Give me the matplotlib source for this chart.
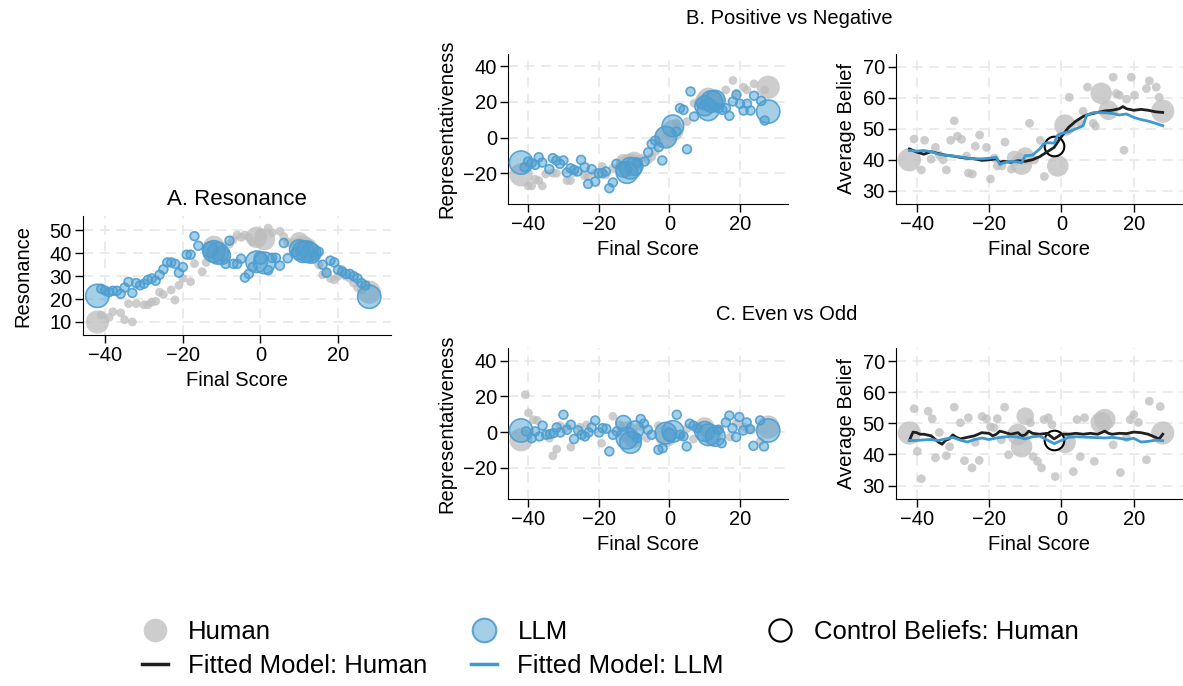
import matplotlib
matplotlib.use('Agg')
import matplotlib.pyplot as plt
from matplotlib.lines import Line2D

plt.rcParams['font.family'] = ['Liberation Sans', 'DejaVu Sans']

# games per final score -> marker area
score_n = {-42: 7, -13: 3, -12: 6, -11: 6, -10: 4, -1: 6, 0: 2, 1: 6,
           10: 5, 11: 6, 12: 6, 13: 5, 28: 7}

# ---- A. Resonance ----
res_h_x = [-42, -41, -39, -38, -36, -35, -34, -33, -32, -30, -29, -28, -27, -26, -25, -23, -22,
           -21, -20, -18, -17, -15, -14, -13, -12, -11, -10, -9, -8, -7, -6, -5, -4, -3, -2, -1,
           0, 1, 2, 3, 5, 6, 7, 8, 9, 10, 11, 12, 13, 14, 15, 16, 17, 18, 19, 20, 21, 22, 23,
           24, 25, 26, 27, 28]
res_h_y = [10, 13, 12, 14.5, 14, 11, 18, 10, 18, 17.5, 17.5, 18.7, 19, 23, 22, 24, 19.6,
           26, 29, 27.6, 35.5, 32, 36, 40, 43, 41, 40, 38, 44, 46, 48, 47, 48, 47, 45, 47,
           48, 46, 51, 49, 49.6, 47.3, 45, 44, 45, 45, 43, 42, 40, 37, 35, 30.6, 32, 29, 28.4, 30, 33, 30, 29,
           27, 25, 24, 26, 23]
res_l_x = [-42, -41, -40, -39, -38, -37, -36, -35, -34, -33, -32, -31, -30, -29, -28, -27, -26,
           -25, -24, -23, -22, -21, -20, -19, -18, -17, -16, -13, -12, -11, -10, -9, -8, -7, -6,
           -5, -4, -3, -2, -1, 0, 1, 2, 3, 4, 5, 6, 7, 9, 10, 11, 12, 13, 14, 15, 16, 17, 18,
           19, 20, 21, 22, 23, 24, 25, 26, 27, 28]
res_l_y = [21.4, 24.5, 23.7, 23, 23.6, 23.6, 22.3, 25, 27.5, 22.7, 27, 26, 26.7, 28.4, 29, 28, 30.6,
           33, 36, 36, 35.4, 31.5, 34, 39.4, 39.4, 47.5, 43.3, 41.6, 40.8, 40, 39, 35.4, 45.5, 35.4, 35.4,
           37.6, 29.4, 31, 34, 36.3, 38, 35.8, 32.6, 38, 38, 34.6, 44.5, 37.8, 40.5, 41.6, 40.7, 40.7, 40, 39, 40.7, 35, 31.5, 36.8,
           36, 32.8, 32, 31, 31, 30, 29, 27, 26, 21]

# ---- B. Positive vs Negative ----
pos_rep_h_x = [-42, -40, -39, -38, -37, -36, -35, -33, -32, -29, -28, -27, -24, -23, -21, -19, -18,
               -16, -14, -13, -12, -11, -10, -8, -6, -5, -4, -3, -1, 1, 2, 5, 7, 10, 11, 12, 13, 14,
               16, 18, 19, 21, 22, 24, 27, 28]
pos_rep_h_y = [-21, -27.2, -27.2, -23.5, -24.2, -27.2, -20.5, -20.1, -20.1, -24.2, -24.2, -19.7, -21.6, -22, -20.1, -16.3, -21,
               -17.3, -15.4, -13.5, -16, -15, -12.9, -11.6, -12.6, -11, -7.9, -3.2, 0.6, 4, 8.1, 9, 19.3, 20.3, 22.1, 21, 20, 20.3,
               26.8, 32.1, 25, 28.3, 26.8, 30.2, 26.8, 28.3]
pos_rep_l_x = [-42, -41, -40, -39, -38, -37, -36, -34, -33, -32, -31, -30, -29, -28, -27, -26, -25,
               -24, -23, -22, -21, -20, -19, -18, -17, -16, -15, -13, -12, -11, -10, -9, -7, -6, -5,
               -4, -3, -2, -1, 1, 2, 3, 4, 5, 6, 7, 9, 10, 11, 12, 13, 14, 15, 16, 17, 18, 19, 20,
               21, 22, 23, 24, 26, 27, 28]
pos_rep_l_y = [-14.1, -16.7, -13.5, -14.4, -15.4, -11.1, -14.1, -17.8, -11.6, -12.9, -14.8, -12.9, -19.7, -17.3, -18.2, -19.1, -12.6,
               -16.7, -26.1, -17.8, -24.8, -20.1, -20.1, -19.1, -28.5, -25.3, -14.8, -18, -19.7, -17.3, -16.3, -14.1, -13.5, -8.4, -3.6,
               -1.7, -5.4, -12.9, 0.2, 6.6, 3.4, 16.5, 15.6, -6.6, 25.9, 11.8, 19, 17.8, 15.6, 20.3, 21, 16.5, 15.6, 16.5, 12.2, 20.3, 24, 19,
               15.2, 19, 15.2, 23.5, 20.6, 9.6, 14.6]

pos_bel_h_x = [-42, -40.7, -38.7, -37.8, -36, -34.8, -33.7, -32.7, -31.8, -30.6, -29.6, -28.7, -27.6, -26.2,
               -25.7, -24.6, -23.8, -22.6, -20.7, -19.6, -18.5, -17.7, -16.4, -15.6, -13.8, -13, -11, -10,
               -8.8, -7.5, -5.8, -4.7, -1, 1, 2.2, 5.2, 6, 7.2, 8.8, 9.4, 11, 13, 14.3, 15.2, 16, 17.3, 18,
               19.3, 20.2, 23.5, 24.3, 26.2, 27, 28]
pos_bel_h_y = [40, 46.7, 36.7, 46.3, 40.2, 44, 41.5, 40, 36.7, 46.3, 52.6, 47.6, 46.6, 41.2,
               35.7, 35.4, 44.4, 48, 44, 33.8, 40.5, 38, 38, 45.7, 37, 40.5, 38.6, 41.2,
               51.8, 39.9, 46.3, 34.6, 38, 51.2, 60.2, 51.8, 55.7, 63.5, 51.8, 50.9, 61.5, 56, 66.7, 61.4, 60.9, 43.1, 59.6,
               66.7, 60.9, 63, 65.5, 63.5, 60.2, 55.7]
pos_fit_h_x = [-42, -40, -38, -36, -34, -32, -30, -28, -26, -24, -22, -20, -18, -17, -16, -14, -12, -10,
               -8, -6, -4, -2, 0, 1, 2, 4, 6, 8, 10, 12, 14, 16, 17, 18, 20, 22, 24, 26, 28]
pos_fit_h_y = [43.5, 42.5, 41.8, 42.6, 42, 41.5, 41.2, 40.8, 40.5, 40.3, 39.8, 40, 40.3, 39.2, 39.5, 39.2, 39.7, 39.5,
               40, 41, 42.5, 44, 47.5, 49, 50.5, 52.5, 54, 54.8, 55.3, 55.8, 56, 56.5, 57.2, 56.5, 56, 56.3, 56, 55.5, 55.3]
pos_fit_l_x = [-42, -40, -38, -36, -34, -32, -30, -28, -26, -24, -22, -20, -18, -17, -16, -14, -12, -11, -10,
               -8, -6, -5, -4, -2, -1, 0, 2, 4, 6, 7, 9, 12, 14, 16, 18, 20, 22, 24, 26, 28]
pos_fit_l_y = [43, 42.8, 43, 42.6, 41.8, 41.5, 41.2, 41, 40.5, 40.3, 40.3, 40.5, 40.8, 38.5, 39, 39.5, 39.3, 39, 41.3,
               41.5, 43.5, 45, 45.5, 45.4, 48, 48.5, 49, 50, 51, 54.5, 55.3, 55.2, 55, 54.5, 54.8, 53.7, 53, 52.5, 51.8, 51]
pos_ctrl = (-2, 44.4)

# ---- C. Even vs Odd ----
eo_rep_h_x = [-42, -40.8, -39.9, -38.5, -37.4, -34, -33, -31.9, -31, -29, -27.9, -25.3, -23.4, -19.2, -16, -14,
              -12, -10.2, -8.3, -6.4, -3.1, -1, 3.5, 5, 6.8, 8.7, 10, 12, 14.3, 17.2, 19, 21, 23.3, 25.7, 28]
eo_rep_h_y = [-4.3, 20.9, 10.7, 6.9, 6.5, -3.4, -13.3, -9.5, 3.6, 2.8, -8.4, 2.8, 4.1, -6.2, 8.8, 4,
              0, -4.3, 3.2, -3.4, 3.6, -2.4, -2.4, 2, -3.9, 2.8, 2.8, -1.5, 1.7, -2.8, 5, 3, 1.3, -5.2, 2.8]
eo_rep_l_x = [-42, -40.6, -39, -38, -36.8, -35.9, -34.9, -33.8, -32.8, -31.9, -30.9, -30, -29, -27.9, -27, -25.8,
              -24.8, -23.9, -22.9, -22, -21, -19.9, -18.9, -17.9, -17, -16, -14.9, -13, -12, -11, -9.7, -9.1,
              -8.1, -7.2, -6.1, -5, -3.1, -1.9, -1, 0, 1, 2.1, 3, 4, 4.9, 5.8, 6.8, 7.9, 10, 11, 13, 13.9,
              14.8, 16, 17, 17.9, 18.9, 19.8, 20.9, 21.9, 22.8, 23.8, 25.7, 26.8, 28]
eo_rep_l_y = [0.9, 0.4, -3.4, 0.4, -2.4, 3.6, -1.5, -1.1, -0.6, 2.6, -0.2, 9.7, 1.3, 4.1, -3.9, 0.9,
              -1.5, -2.4, -0.2, 2.6, 6.5, -0.2, 2.2, 1.9, -10.8, -1.5, 0.4, 5, -3.4, -5.8, 1.3, -3.4,
              7.3, 4.7, 1.3, -1.5, -9.9, -9, -0.6, -1.5, 0.4, 9.7, -1.5, -2.4, -8, 4.7, 3.6, 2.2, 0.4, -1.5, -2.4, 1.3,
              -6.2, 5.4, 9.2, 2.2, -2.8, 8.4, 0.9, 5.4, 1.7, -7.7, 6.5, -8, 0.9]

eo_bel_h_x = [-42, -40.7, -39.8, -38.7, -36.8, -35.7, -34.8, -33.7, -31.8, -30.9, -29.6, -27.9, -26.8, -25.7,
              -24.7, -23.8, -22.7, -21.9, -20.7, -19.6, -18.6, -17.7, -16.6, -15.7, -14.6, -12, -10, -11,
              -8.6, -7.8, -6.6, -5.5, -4.8, -3.6, -2.6, -1.7, 1, 3.3, 4.3, 5.2, 6.4, 9.1, 11, 12, 14.3,
              16.3, 18, 19, 20, 21.3, 23.5, 24.3, 27.3, 28]
eo_bel_h_y = [46.9, 54.7, 41, 32.2, 53.9, 51.5, 38.9, 47.1, 39.6, 42.5, 55.2, 50.2, 38, 51.8,
              35.7, 43.9, 38.1, 52.2, 51.5, 48.9, 48.6, 51.5, 44.7, 55.2, 39.9, 46.4, 52.3, 42.5,
              50.2, 39.3, 37.8, 35.7, 51.2, 51.8, 49.6, 32.9, 43.9, 34.5, 51.2, 39.3, 51.8, 37.8, 50.2, 51.2, 43.1,
              34.2, 45.4, 51.2, 52.8, 50.3, 38.3, 57.1, 55.4, 46.9]
eo_fit_h_x = [-42, -41, -40, -39, -38, -36, -35, -34, -33, -32, -31, -30, -29, -28, -26, -24, -22, -20, -19,
              -18, -17, -16, -14, -12, -11, -10, -9, -8, -6, -4, -2, 0, 2, 4, 6, 8, 10, 12, 13, 14, 16,
              18, 20, 22, 24, 26, 27, 28]
eo_fit_h_y = [44.5, 47.2, 47, 46.5, 46.5, 46, 45, 44, 43.3, 44.5, 45, 46.3, 45.5, 45, 45.5, 46, 47, 46.8, 46,
              46.5, 47.5, 47.2, 46.5, 47, 46, 46.3, 47.5, 46.8, 46.5, 46.8, 45, 46.5, 46.5, 46.8, 46.5, 46.8, 46.5, 47.5, 46.8, 46.5, 46.8,
              46.7, 47.2, 47, 46.5, 45.5, 45, 46.5]
eo_fit_l_x = [-42, -40, -38, -36, -34, -32, -30, -28, -26, -24, -22, -20, -18, -16, -14, -12, -10, -8, -6,
              -4, -2, 0, 2, 4, 6, 8, 10, 12, 14, 16, 18, 20, 22, 24, 26, 28]
eo_fit_l_y = [44.5, 44.5, 44.7, 44.8, 44.5, 45, 45.5, 44.6, 44, 44.8, 45.3, 44.8, 45.3, 45.6, 45.8, 45.6, 45, 45.7, 45.9,
              44.7, 43.5, 44.5, 45.5, 45.7, 45.6, 45.5, 45.4, 45.3, 45.5, 45.2, 44.8, 45.2, 44, 44.2, 44.6, 44.4]
eo_ctrl = (-2, 44.7)

GREY = '#bdbdbd'
BLUE_FILL = (0.30, 0.62, 0.82, 0.5)
BLUE_EDGE = (0.30, 0.62, 0.82, 0.9)
LINE_BLUE = '#3d99d1'
LINE_BLACK = '#1f1f1f'
FS = 14.5


def sizes(xs):
    return [40 * score_n.get(round(v), 1) for v in xs]


def style_axes(ax, yticks, ylim, ylabel, labelpad=5):
    ax.set_xlim(-45.7, 33.6)
    ax.set_ylim(*ylim)
    ax.set_xticks([-40, -20, 0, 20])
    ax.set_yticks(yticks)
    ax.grid(True, color='#e8e8e8', linestyle=(0, (6, 4)), linewidth=1.2)
    ax.set_axisbelow(True)
    ax.spines['top'].set_visible(False)
    ax.spines['right'].set_visible(False)
    ax.tick_params(labelsize=FS, length=6, width=1, pad=2)
    ax.set_xlabel('Final Score', fontsize=FS)
    ax.set_ylabel(ylabel, fontsize=FS, labelpad=labelpad)


def human_dots(ax, xs, ys):
    ax.scatter(xs, ys, s=sizes(xs), color=GREY, alpha=0.75, edgecolors='none', zorder=2)


def llm_dots(ax, xs, ys):
    ax.scatter(xs, ys, s=sizes(xs), facecolors=BLUE_FILL, edgecolors=BLUE_EDGE,
               linewidths=1.2, zorder=3)


def control(ax, pt):
    ax.scatter([pt[0]], [pt[1]], s=200, facecolors='white', edgecolors='black',
               linewidths=1.5, zorder=4)


def fits(ax, hx, hy, lx, ly):
    ax.plot(hx, hy, color=LINE_BLACK, lw=2.0, zorder=5)
    ax.plot(lx, ly, color=LINE_BLUE, lw=2.0, zorder=6)


fig = plt.figure(figsize=(11.83, 6.86), dpi=100)
W, H = 1183, 686

axA = fig.add_axes([83 / W, 1 - 335 / H, 308 / W, 119 / H])
axB1 = fig.add_axes([508 / W, 1 - 204 / H, 280 / W, 150 / H])
axB2 = fig.add_axes([896 / W, 1 - 204 / H, 287 / W, 150 / H])
axC1 = fig.add_axes([508 / W, 1 - 499 / H, 280 / W, 151 / H])
axC2 = fig.add_axes([896 / W, 1 - 499 / H, 287 / W, 151 / H])

# A
human_dots(axA, res_h_x, res_h_y)
llm_dots(axA, res_l_x, res_l_y)
style_axes(axA, [10, 20, 30, 40, 50], (4.3, 56.3), 'Resonance', labelpad=12)
axA.set_title('A. Resonance', fontsize=16, pad=8)

# B
human_dots(axB1, pos_rep_h_x, pos_rep_h_y)
llm_dots(axB1, pos_rep_l_x, pos_rep_l_y)
style_axes(axB1, [-20, 0, 20, 40], (-37.4, 47), 'Representativeness')

human_dots(axB2, pos_bel_h_x, pos_bel_h_y)
control(axB2, pos_ctrl)
fits(axB2, pos_fit_h_x, pos_fit_h_y, pos_fit_l_x, pos_fit_l_y)
style_axes(axB2, [30, 40, 50, 60, 70], (25.7, 74.2), 'Average Belief')

# C
human_dots(axC1, eo_rep_h_x, eo_rep_h_y)
llm_dots(axC1, eo_rep_l_x, eo_rep_l_y)
style_axes(axC1, [-20, 0, 20, 40], (-37.4, 47), 'Representativeness')

human_dots(axC2, eo_bel_h_x, eo_bel_h_y)
fits(axC2, eo_fit_h_x, eo_fit_h_y, eo_fit_l_x, eo_fit_l_y)
control(axC2, eo_ctrl)
style_axes(axC2, [30, 40, 50, 60, 70], (25.7, 74.2), 'Average Belief')

fig.text(789 / W, 1 - 19 / H, 'B. Positive vs Negative', fontsize=14.5, ha='center', va='center')
fig.text(787 / W, 1 - 315 / H, 'C. Even vs Odd', fontsize=14.5, ha='center', va='center')

handles = [
    Line2D([], [], ls='none', marker='o', ms=17, color=GREY, alpha=0.75, mec='none'),
    Line2D([], [], color=LINE_BLACK, lw=2.5),
    Line2D([], [], ls='none', marker='o', ms=17, mfc=BLUE_FILL, mec=BLUE_EDGE, mew=1.5),
    Line2D([], [], color=LINE_BLUE, lw=2.5),
    Line2D([], [], ls='none', marker='o', ms=16, mfc='white', mec='black', mew=1.5),
]
labels = ['Human', 'Fitted Model: Human', 'LLM', 'Fitted Model: LLM', 'Control Beliefs: Human']
fig.legend(handles, labels, ncol=3, loc='upper left', bbox_to_anchor=(142 / W, 1 - 620 / H),
           frameon=False, fontsize=18.5, handlelength=1.0, handletextpad=0.8,
           columnspacing=1.7, labelspacing=0.4, borderpad=0, borderaxespad=0)

fig.savefig('out.png', dpi=100)
